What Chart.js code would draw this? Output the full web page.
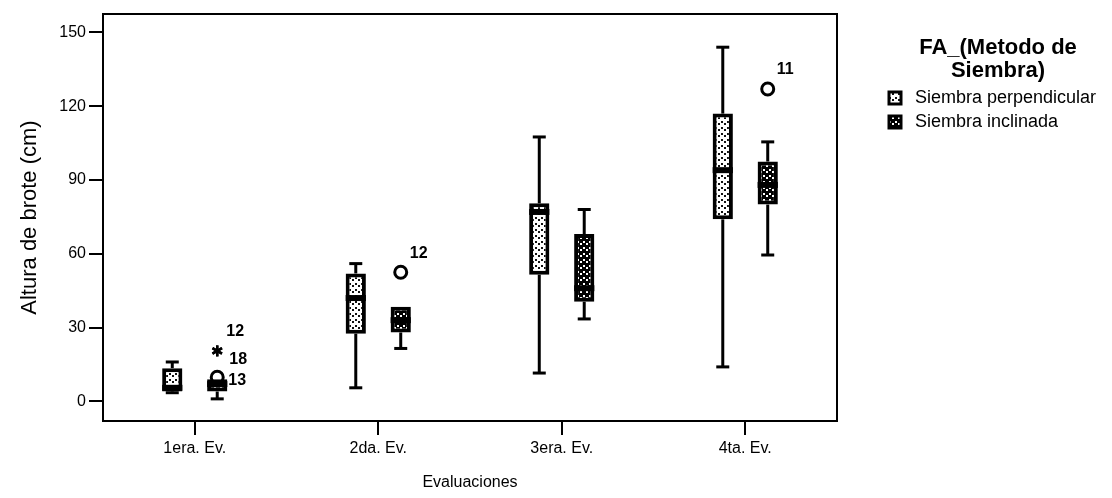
<!DOCTYPE html>
<html>
<head>
<meta charset="utf-8">
<script src="https://cdn.jsdelivr.net/npm/chart.js@4.4.3/dist/chart.umd.min.js"></script>
<style>
  html, body { margin: 0; padding: 0; background: #fff; }
  #wrap { width: 1112px; height: 498px; }
</style>
</head>
<body>
<div id="wrap"><canvas id="chart" width="1112" height="498"></canvas></div>
<script>
const CATEGORIES = ['1era. Ev.', '2da. Ev.', '3era. Ev.', '4ta. Ev.'];
const SERIES = ['Siembra perpendicular', 'Siembra inclinada'];
const Y_TICKS = [0, 30, 60, 90, 120, 150];

// Siembra perpendicular
const PERP_MIN = [3.5, 5.5, 11.5, 14];
const PERP_Q1 = [4, 27.5, 51.5, 74];
const PERP_MED = [5.5, 42, 77, 94];
const PERP_Q3 = [13.5, 52, 80.5, 117];
const PERP_MAX = [16, 56, 107.5, 144];

// Siembra inclinada
const INCL_MIN = [1, 21.5, 33.5, 59.5];
const INCL_Q1 = [4, 28, 40.5, 80];
const INCL_MED = [7, 33, 46, 88];
const INCL_Q3 = [9, 38.5, 68, 97.5];
const INCL_MAX = [9, 38.5, 78, 105.5];

// outliers (category index, series index, value, case label, marker, label side)
const OUT_CAT = [0, 0, 0, 1, 3];
const OUT_SERIES = [1, 1, 1, 1, 1];
const OUT_VALUE = [20.5, 20.5, 9.8, 52.5, 127];
const OUT_LABEL = ['12', '18', '13', '12', '11'];
const OUT_MARK = ['star', 'star', 'circle', 'circle', 'circle'];
const OUT_SIDE = ['above', 'below', 'right', 'above', 'above'];

const FONT = '"Liberation Sans", Arial, sans-serif';
const STATS = [
  { min: PERP_MIN, q1: PERP_Q1, med: PERP_MED, q3: PERP_Q3, max: PERP_MAX },
  { min: INCL_MIN, q1: INCL_Q1, med: INCL_MED, q3: INCL_Q3, max: INCL_MAX }
];

function makePattern(bg, fg) {
  const c = document.createElement('canvas');
  c.width = 6; c.height = 6;
  const g = c.getContext('2d');
  g.fillStyle = bg; g.fillRect(0, 0, 6, 6);
  g.fillStyle = fg;
  g.fillRect(1, 1, 2, 2);
  g.fillRect(4, 3, 2, 2);
  return g.createPattern(c, 'repeat');
}
const ctx0 = document.getElementById('chart').getContext('2d');
const FILLS = [makePattern('#fff', '#111'), makePattern('#000', '#fff')];

function line(ctx, x1, y1, x2, y2) {
  ctx.beginPath(); ctx.moveTo(x1, y1); ctx.lineTo(x2, y2); ctx.stroke();
}

const boxExtras = {
  id: 'boxExtras',
  afterDatasetsDraw(chart) {
    const ctx = chart.ctx, ys = chart.scales.y;
    ctx.save();
    ctx.strokeStyle = '#000';
    STATS.forEach((s, di) => {
      chart.getDatasetMeta(di).data.forEach((bar, i) => {
        const x = bar.x, half = bar.width / 2, cap = 6.5;
        const yMin = ys.getPixelForValue(s.min[i]);
        const yQ1 = ys.getPixelForValue(s.q1[i]);
        const yQ3 = ys.getPixelForValue(s.q3[i]);
        const yMax = ys.getPixelForValue(s.max[i]);
        const yMed = ys.getPixelForValue(s.med[i]);
        ctx.lineWidth = 3;
        if (s.max[i] > s.q3[i]) {
          line(ctx, x, yQ3, x, yMax);
          line(ctx, x - cap, yMax, x + cap, yMax);
        }
        if (s.min[i] < s.q1[i]) {
          line(ctx, x, yQ1, x, yMin);
          line(ctx, x - cap, yMin, x + cap, yMin);
        }
        ctx.lineWidth = 6;
        line(ctx, x - half, yMed, x + half, yMed);
      });
    });

    // outliers
    const offsets = { above: [9, -19], below: [12, 9], right: [11, 3] };
    OUT_VALUE.forEach((v, k) => {
      const bar = chart.getDatasetMeta(OUT_SERIES[k]).data[OUT_CAT[k]];
      const x = bar.x, y = ys.getPixelForValue(v);
      ctx.lineWidth = 3;
      if (OUT_MARK[k] === 'circle') {
        ctx.beginPath(); ctx.arc(x, y, 6, 0, Math.PI * 2); ctx.stroke();
      } else {
        ctx.lineWidth = 2.5;
        for (let a = 0; a < 3; a++) {
          const t = Math.PI / 2 + a * Math.PI / 3;
          line(ctx, x - 5.5 * Math.cos(t), y - 5.5 * Math.sin(t), x + 5.5 * Math.cos(t), y + 5.5 * Math.sin(t));
        }
      }
      const [dx, dy] = offsets[OUT_SIDE[k]];
      ctx.fillStyle = '#000';
      ctx.font = 'bold 16px ' + FONT;
      ctx.textAlign = 'left';
      ctx.textBaseline = 'middle';
      ctx.fillText(OUT_LABEL[k], x + dx, y + dy);
    });
    ctx.restore();
  },
  afterDraw(chart) {
    const ctx = chart.ctx, a = chart.chartArea;
    ctx.save();
    ctx.strokeStyle = '#000';
    ctx.lineWidth = 2;
    ctx.beginPath();
    ctx.moveTo(a.left, a.top); ctx.lineTo(a.right, a.top); ctx.lineTo(a.right, a.bottom);
    ctx.stroke();

    // legend
    ctx.fillStyle = '#000';
    ctx.textAlign = 'center';
    ctx.textBaseline = 'middle';
    ctx.font = 'bold 22px ' + FONT;
    ctx.fillText('FA_(Metodo de', 998, 48);
    ctx.fillText('Siembra)', 998, 71);
    ctx.font = '18px ' + FONT;
    ctx.textAlign = 'left';
    SERIES.forEach((name, k) => {
      const cy = 98 + k * 24;
      ctx.fillStyle = FILLS[k];
      ctx.fillRect(889, cy - 6, 12, 12);
      ctx.lineWidth = 3;
      ctx.strokeRect(889, cy - 6, 12, 12);
      ctx.fillStyle = '#000';
      ctx.fillText(name, 915, cy);
    });
    ctx.restore();
  }
};

new Chart(ctx0, {
  type: 'bar',
  data: {
    labels: CATEGORIES,
    datasets: STATS.map((s, di) => ({
      label: SERIES[di],
      data: s.q1.map((q, i) => [q, s.q3[i]]),
      backgroundColor: FILLS[di],
      borderColor: '#000',
      borderWidth: 4,
      borderSkipped: false,
      categoryPercentage: 0.49,
      barPercentage: 0.45
    }))
  },
  options: {
    responsive: false,
    animation: false,
    devicePixelRatio: 1,
    layout: { padding: { top: 14, right: 275, left: 0, bottom: 0 } },
    plugins: { legend: { display: false }, tooltip: { enabled: false } },
    scales: {
      x: {
        type: 'category',
        offset: true,
        grid: { offset: false, drawOnChartArea: false, drawTicks: true, tickLength: 14, color: '#000', lineWidth: 2 },
        border: { display: true, color: '#000', width: 2 },
        ticks: { color: '#000', font: { family: FONT, size: 16 }, padding: 4 },
        title: { display: true, text: 'Evaluaciones', color: '#000', font: { family: FONT, size: 16 }, padding: { top: 0, bottom: 6 } },
        afterFit(s) { s.height = 77; }
      },
      y: {
        type: 'linear',
        min: -8,
        max: 157.5,
        afterBuildTicks(s) { s.ticks = Y_TICKS.map(v => ({ value: v })); },
        grid: { drawOnChartArea: false, drawTicks: true, tickLength: 14, color: '#000', lineWidth: 2 },
        border: { display: true, color: '#000', width: 2 },
        ticks: { color: '#000', font: { family: FONT, size: 16 }, padding: 3 },
        title: { display: true, text: 'Altura de brote (cm)', color: '#000', font: { family: FONT, size: 22 }, padding: { top: 17, bottom: 0 } },
        afterFit(s) { s.width = 103; }
      }
    }
  },
  plugins: [boxExtras]
});
</script>
</body>
</html>
